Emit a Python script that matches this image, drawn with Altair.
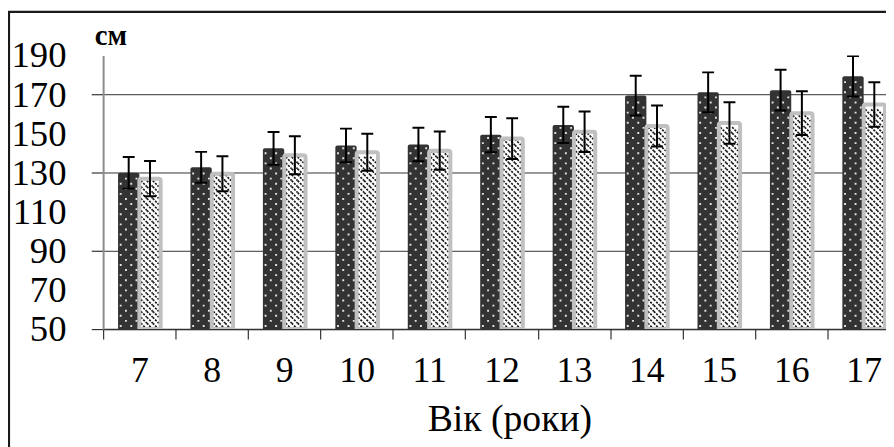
import altair as alt
import pandas as pd

ages = [7, 8, 9, 10, 11, 12, 13, 14, 15, 16, 17]
boys_mean = [130.0, 132.8, 142.5, 144.0, 144.5, 149.5, 154.5, 169.5, 171.2, 172.3, 179.4]
boys_sd = [8.1, 7.9, 8.4, 8.6, 8.6, 9.0, 9.3, 10.2, 10.2, 10.4, 10.4]
girls_mean = [127.0, 129.5, 139.0, 140.5, 141.3, 147.5, 151.0, 154.0, 155.5, 160.5, 165.0]
girls_sd = [9.0, 9.0, 9.7, 9.5, 9.8, 10.4, 10.4, 10.5, 10.6, 11.2, 11.4]
sexes = ["Хлопці", "Дівчата"]
y_ticks = [50, 70, 90, 110, 130, 150, 170, 190]
y_unit = "см"
x_title = "Вік (роки)"

rows = []
for i, a in enumerate(ages):
    rows.append({"age": str(a), "sex": sexes[0], "mean": boys_mean[i], "sd": boys_sd[i]})
    rows.append({"age": str(a), "sex": sexes[1], "mean": girls_mean[i], "sd": girls_sd[i]})
df = pd.DataFrame(rows)
tick_df = pd.DataFrame({"v": y_ticks, "label": [str(v) for v in y_ticks]})

FONT = "Liberation Serif"

x_enc = alt.X(
    "age:N",
    sort=[str(a) for a in ages],
    scale=alt.Scale(range=[0, 804], paddingInner=0, paddingOuter=0),
    axis=alt.Axis(
        title=x_title, labelAngle=0, tickBand="extent", tickSize=10,
        labelFontSize=36, labelPadding=15, labelFont=FONT, labelColor="black",
        labelOverlap=False,
        titleFontSize=38, titleFont=FONT, titleFontWeight="normal", titleColor="black",
        titleX=410, titleY=102, titleBaseline="alphabetic", titleAlign="center",
        domainColor="#333333", domainWidth=1.5, tickColor="#333333", tickWidth=1.2,
        grid=False,
    ),
)
xo_enc = alt.XOffset("sex:N", scale=alt.Scale(domain=sexes, paddingInner=0, paddingOuter=0.7))
y_scale = alt.Scale(domain=[50, 190], nice=False, zero=False)
y_axis = alt.Axis(
    values=y_ticks, title=y_unit, titleAngle=0, titleX=-9, titleY=-11,
    titleAlign="left", titleBaseline="alphabetic", titleFontSize=29,
    titleFontWeight="bold", titleFont=FONT, titleColor="black",
    labels=False,
    tickSize=12, tickColor="#333333", tickWidth=1.2,
    domainColor="#8c8c8c", domainWidth=2,
    grid=True, gridColor="#333333", gridWidth=1,
)

base = alt.Chart(df).encode(x=x_enc, xOffset=xo_enc)
boys = base.transform_filter(alt.datum.sex == sexes[0])
girls = base.transform_filter(alt.datum.sex == sexes[1])

dark_bars = boys.mark_bar(
    color="#333333", cornerRadiusTopLeft=2, cornerRadiusTopRight=2, clip=True
).encode(y=alt.Y("mean:Q", scale=y_scale, axis=y_axis), y2=alt.datum(50))

# y tick labels, placed through the y scale
y_labels = alt.Chart(tick_df).mark_text(
    align="right", baseline="middle", font=FONT, fontSize=37, color="black", dy=1
).encode(x=alt.value(-37), y=alt.Y("v:Q", scale=y_scale), text="label:N")

DOT_EVEN = "M-0.84,-0.09h0.18v0.18h-0.18zM0.15,-0.09h0.18v0.18h-0.18z"
DOT_ODD = "M-0.35,-0.09h0.18v0.18h-0.18zM0.64,-0.09h0.18v0.18h-0.18z"

dot_rows = boys.transform_calculate(
    idx="sequence(0, floor((datum.mean - 53) / 2.6) + 1)"
).transform_flatten(["idx"]).transform_calculate(
    lev="51.6 + datum.idx * 2.6", par="datum.idx % 2"
)
dots_even = dot_rows.transform_filter("datum.par == 0").mark_point(
    shape=DOT_EVEN, size=462, filled=True, color="#e2e2e2", opacity=1, strokeWidth=0, clip=True
).encode(y=alt.Y("lev:Q", scale=y_scale))
dots_odd = dot_rows.transform_filter("datum.par == 1").mark_point(
    shape=DOT_ODD, size=462, filled=True, color="#e2e2e2", opacity=1, strokeWidth=0, clip=True
).encode(y=alt.Y("lev:Q", scale=y_scale))

light_fill = girls.mark_bar(color="white", clip=True).encode(
    y=alt.Y("mean:Q", scale=y_scale), y2=alt.datum(50)
)

DIAG = "M-0.86,-0.279L-0.302,0.279M-0.302,-0.279L0.256,0.279M0.256,-0.279L0.814,0.279"
pattern = girls.transform_calculate(
    idx="sequence(0, floor((datum.mean - 53) / 3.04) + 1)"
).transform_flatten(["idx"]).transform_calculate(
    lev="51.5 + datum.idx * 3.04"
).mark_point(
    shape=DIAG, size=462, filled=False, color="#1a1a1a", strokeWidth=1.7,
    strokeDash=[2.2, 1.2], opacity=1, clip=True
).encode(y=alt.Y("lev:Q", scale=y_scale))

light_stroke = girls.mark_bar(
    fillOpacity=0, stroke="#c0c0c0", strokeWidth=4,
    cornerRadiusTopLeft=2, cornerRadiusTopRight=2, clip=True
).encode(y=alt.Y("mean:Q", scale=y_scale), y2=alt.datum(50))

err = base.transform_calculate(lo="datum.mean - datum.sd", hi="datum.mean + datum.sd")
err_rule = err.mark_rule(color="black", strokeWidth=2, clip=True).encode(
    y=alt.Y("lo:Q", scale=y_scale), y2="hi:Q"
)
cap_lo = err.mark_tick(color="black", size=12, thickness=2, opacity=1, clip=True).encode(
    y=alt.Y("lo:Q", scale=y_scale)
)
cap_hi = err.mark_tick(color="black", size=12, thickness=2, opacity=1, clip=True).encode(
    y=alt.Y("hi:Q", scale=y_scale)
)

frame = alt.Chart(pd.DataFrame({"f": [0]})).mark_rect(
    filled=False, stroke="#1a1a1a", strokeWidth=2.2
).encode(
    x=alt.value(-95), x2=alt.value(900), y=alt.value(-44), y2=alt.value(500)
)

chart = alt.layer(
    dark_bars, dots_even, dots_odd, light_fill, pattern, light_stroke,
    err_rule, cap_lo, cap_hi, y_labels, frame
).properties(
    width=790, height=276,
    autosize=alt.AutoSizeParams(type="none"),
    padding={"left": 96, "top": 46, "right": 0, "bottom": 117},
).configure(font=FONT).configure_axis(labelOverlap=False).configure_view(strokeWidth=0)

chart.save("out.html", embed_options={"renderer": "svg", "actions": False})
